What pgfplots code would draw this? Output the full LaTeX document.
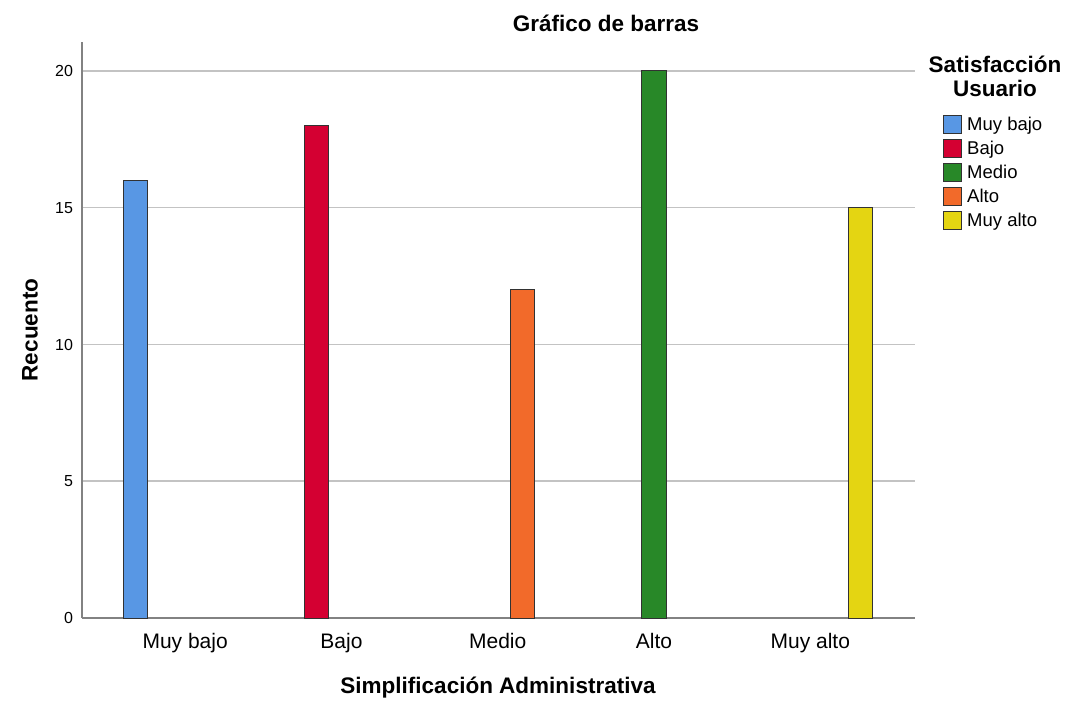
\documentclass[border=0pt]{standalone}
\usepackage{fontspec}
\setmainfont{Liberation Sans}
\usepackage{pgfplots}
\pgfplotsset{compat=1.18}
\definecolor{cblue}{RGB}{88,151,228}
\definecolor{cred}{RGB}{212,0,50}
\definecolor{cgreen}{RGB}{40,136,40}
\definecolor{corange}{RGB}{242,106,42}
\definecolor{cyellow}{RGB}{228,213,18}
\definecolor{axisgray}{RGB}{130,130,130}
\definecolor{gridgray}{RGB}{195,195,195}
\definecolor{edge}{RGB}{50,50,50}
\begin{document}
\begin{tikzpicture}[x=1pt,y=1pt]
\useasboundingbox (0,0) rectangle (1070,702);
\begin{axis}[
  at={(82pt,84pt)}, anchor=south west,
  scale only axis, width=833pt, height=576pt,
  xmin=-0.66, xmax=4.67, ymin=0, ymax=21.06,
  axis x line*=bottom, axis y line*=left,
  axis line style={draw=axisgray, line width=1.5pt, -},
  xtick={0,1,2,3,4},
  xticklabels={Muy bajo,Bajo,Medio,Alto,Muy alto},
  ytick={0,5,10,15,20},
  major tick length=0pt,
  ymajorgrids, grid style={gridgray, line width=1.5pt},
  /pgf/number format/assume math mode=true,
  xticklabel style={font=\fontsize{21}{25}\selectfont, yshift=-12pt},
  yticklabel style={font=\fontsize{16}{19}\selectfont, xshift=-5.5pt},
  ybar, bar width=0.154, bar shift=0pt,
  every axis plot/.append style={draw=edge, line width=1pt},
  legend image code/.code={\draw[#1, line width=1pt] (0pt,-8pt) rectangle (18pt,10pt);},
  legend style={at={(1.0330,0.8733)}, anchor=north west, draw=none, fill=none,
    inner sep=0pt, row sep=4.5pt, column sep=3pt,
    font=\fontsize{18.5}{22}\selectfont,
    nodes={inner xsep=2.5pt, inner ysep=0pt, text height=14pt, text depth=4pt}},
  legend cell align=left,
  clip=false,
]
\addplot[fill=cblue] coordinates {(-0.32,16)};
\addlegendentry{Muy bajo}
\addplot[fill=cred] coordinates {(0.84,18)};
\addlegendentry{Bajo}
\addplot[fill=cgreen] coordinates {(3,20)};
\addlegendentry{Medio}
\addplot[fill=corange] coordinates {(2.16,12)};
\addlegendentry{Alto}
\addplot[fill=cyellow] coordinates {(4.32,15)};
\addlegendentry{Muy alto}
\end{axis}
\node[font=\bfseries\fontsize{22.5}{26}\selectfont] at (606,679) {Gráfico de barras};
\node[font=\bfseries\fontsize{22.5}{26}\selectfont, rotate=90] at (30,372) {Recuento};
\node[font=\bfseries\fontsize{22.5}{26}\selectfont] at (498,14) {Simplificación Administrativa};
\node[font=\bfseries\fontsize{22.5}{24}\selectfont, align=center] at (995,626) {Satisfacción\\Usuario};
\end{tikzpicture}
\end{document}
